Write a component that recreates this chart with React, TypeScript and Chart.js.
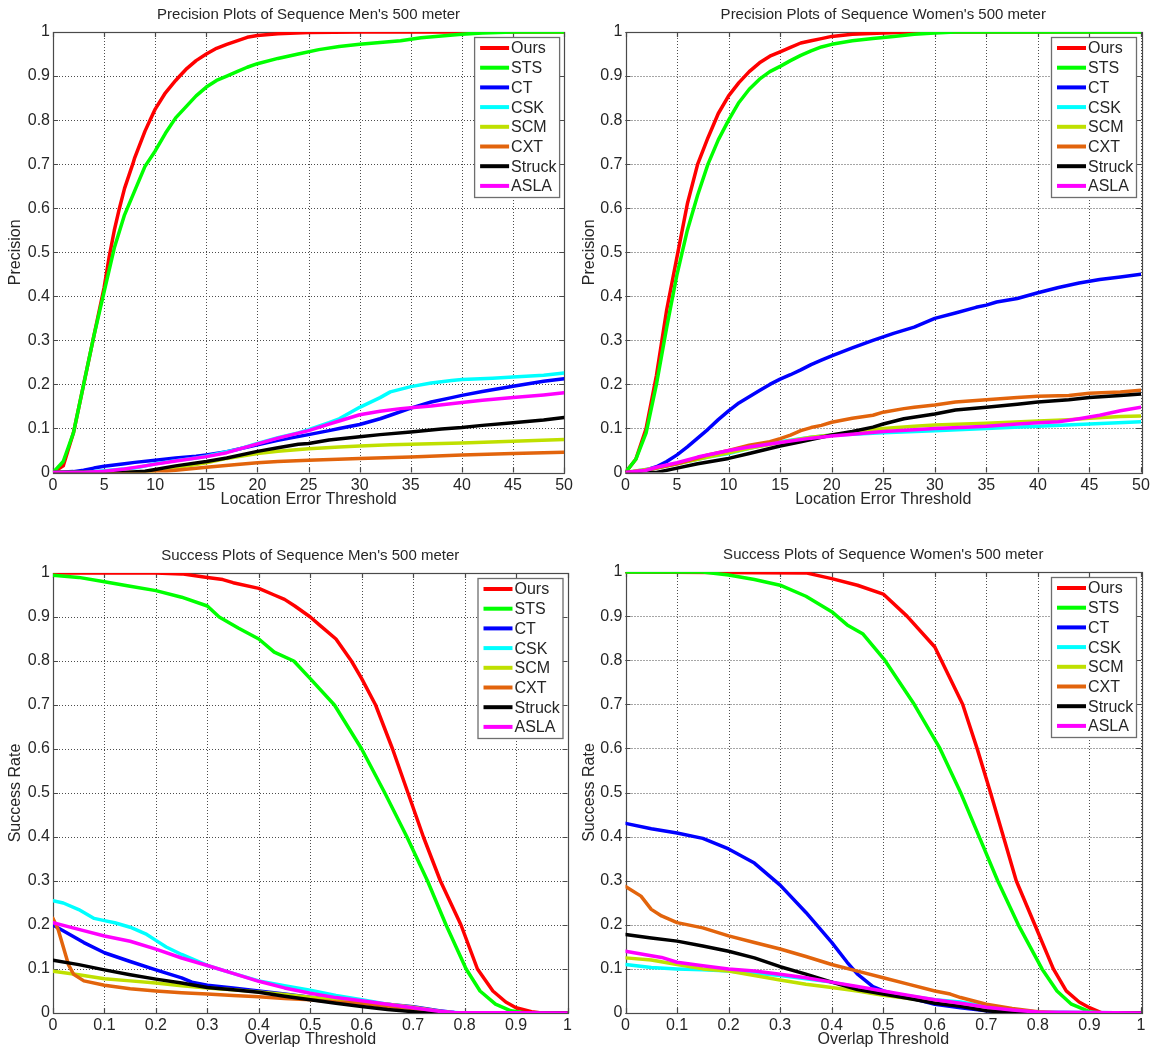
import React, { useEffect, useRef } from "react";
import { Chart, registerables } from "chart.js";

Chart.register(...registerables);

// ---------- series meta ----------
const trackerNames = ["Ours", "STS", "CT", "CSK", "SCM", "CXT", "Struck", "ASLA"];
const trackerColors = ["#ff0000", "#00ff00", "#0000ff", "#00ffff", "#bfe000", "#e2640c", "#000000", "#ff00ff"];

// ---------- tick values ----------
const precisionXTicks = [0, 5, 10, 15, 20, 25, 30, 35, 40, 45, 50];
const overlapXTicks = [0, 0.1, 0.2, 0.3, 0.4, 0.5, 0.6, 0.7, 0.8, 0.9, 1];
const rateYTicks = [0, 0.1, 0.2, 0.3, 0.4, 0.5, 0.6, 0.7, 0.8, 0.9, 1];

// ---------- Precision, Men's 500 meter ([threshold, precision]) ----------
const pmOurs = [[0,0],[1,0.015],[2,0.09],[3,0.2],[4,0.31],[5,0.42],[5.5,0.49],[6,0.55],[6.5,0.6],[7,0.645],[7.8,0.7],[8,0.715],[9,0.775],[9.5,0.8],[10,0.825],[11,0.862],[12,0.89],[12.4,0.9],[13,0.915],[14,0.935],[15,0.95],[16,0.963],[17,0.972],[18,0.98],[19,0.988],[20,0.992],[22,0.996],[25,0.999],[30,1],[50,1]];
const pmSTS = [[0,0],[1,0.025],[2,0.09],[3,0.2],[4,0.31],[5,0.41],[6,0.51],[7,0.585],[8,0.64],[9,0.695],[10,0.73],[11,0.77],[12,0.805],[13,0.83],[14,0.855],[15,0.875],[16,0.89],[17,0.9],[18,0.91],[19,0.92],[20,0.928],[22,0.94],[24,0.95],[26,0.96],[28,0.967],[30,0.972],[32,0.976],[34,0.98],[36,0.987],[38,0.991],[40,0.995],[42,0.998],[45,1],[50,1]];
const pmCT = [[0,0],[2,0.002],[3,0.005],[4,0.01],[5,0.014],[7,0.02],[8,0.023],[10,0.028],[12,0.033],[14,0.037],[15,0.04],[17,0.047],[20,0.063],[22,0.073],[25,0.086],[27,0.095],[28,0.1],[30,0.109],[32,0.122],[33,0.13],[35,0.146],[37,0.16],[39,0.17],[40,0.175],[42,0.184],[45,0.196],[48,0.207],[50,0.213]];
const pmCSK = [[0,0],[3,0],[5,0.004],[8,0.01],[10,0.02],[12,0.027],[14,0.033],[15,0.037],[17,0.047],[18,0.052],[20,0.066],[22,0.079],[24,0.09],[25,0.097],[27,0.113],[28,0.122],[30,0.148],[32,0.17],[33,0.183],[35,0.195],[37,0.203],[39,0.209],[40,0.211],[43,0.214],[45,0.217],[48,0.221],[50,0.226]];
const pmSCM = [[0,0],[9,0],[10,0.004],[12,0.011],[15,0.022],[17,0.032],[20,0.043],[22,0.048],[25,0.054],[28,0.058],[30,0.06],[33,0.063],[35,0.064],[38,0.066],[40,0.067],[45,0.071],[50,0.075]];
const pmCXT = [[0,0],[10,0],[12,0.005],[15,0.012],[18,0.018],[20,0.022],[22,0.025],[25,0.028],[30,0.032],[35,0.035],[40,0.04],[45,0.043],[50,0.046]];
const pmStruck = [[0,0],[7,0],[9,0.003],[10,0.007],[12,0.015],[15,0.025],[17,0.033],[20,0.048],[22,0.056],[24,0.064],[25,0.066],[27,0.074],[30,0.081],[32,0.086],[35,0.092],[38,0.099],[40,0.102],[42,0.107],[45,0.113],[48,0.119],[50,0.125]];
const pmASLA = [[0,0],[3,0],[5,0.003],[7,0.008],[9,0.015],[10,0.019],[12,0.026],[15,0.036],[17,0.045],[20,0.065],[22,0.078],[25,0.095],[27,0.11],[28,0.117],[30,0.131],[32,0.139],[34,0.145],[35,0.147],[37,0.151],[40,0.159],[42,0.164],[45,0.17],[48,0.176],[50,0.181]];

// ---------- Precision, Women's 500 meter ----------
const pwOurs = [[0,0],[1,0.03],[2,0.1],[3,0.22],[4,0.37],[5,0.49],[6,0.61],[7,0.7],[8,0.76],[9,0.815],[10,0.855],[11,0.885],[12,0.91],[13,0.93],[14,0.945],[15,0.955],[16,0.965],[17,0.975],[18,0.98],[19,0.985],[20,0.99],[22,0.995],[25,0.998],[28,1],[50,1]];
const pwSTS = [[0,0],[1,0.03],[2,0.09],[3,0.2],[4,0.33],[5,0.45],[6,0.55],[7,0.63],[8,0.7],[9,0.755],[10,0.8],[11,0.84],[12,0.87],[13,0.893],[14,0.91],[15,0.922],[16,0.935],[17,0.947],[18,0.957],[19,0.966],[20,0.972],[22,0.98],[24,0.985],[26,0.99],[28,0.995],[30,0.998],[32,1],[50,1]];
const pwCT = [[0,0],[1,0.002],[2,0.006],[3,0.013],[4,0.025],[5,0.04],[6,0.058],[7,0.078],[8,0.098],[9,0.12],[10,0.14],[11,0.158],[12,0.172],[13,0.186],[14,0.2],[15,0.212],[16,0.222],[17,0.233],[18,0.245],[19,0.255],[20,0.265],[22,0.283],[24,0.3],[25,0.308],[26,0.316],[28,0.33],[30,0.35],[32,0.362],[34,0.375],[35,0.38],[36,0.387],[38,0.395],[40,0.408],[42,0.42],[44,0.43],[46,0.438],[48,0.444],[50,0.45]];
const pwCSK = [[0,0],[3,0.01],[5,0.02],[8,0.035],[10,0.043],[12,0.055],[15,0.07],[18,0.08],[20,0.085],[22,0.087],[25,0.09],[30,0.095],[35,0.1],[40,0.105],[45,0.11],[50,0.115]];
const pwSCM = [[0,0],[3,0.01],[5,0.02],[8,0.035],[10,0.045],[12,0.055],[15,0.068],[18,0.08],[20,0.085],[22,0.09],[24,0.097],[25,0.1],[28,0.105],[30,0.108],[35,0.112],[40,0.117],[43,0.12],[45,0.123],[48,0.127],[50,0.128]];
const pwCXT = [[0,0],[2,0.005],[3,0.01],[5,0.02],[7,0.033],[8,0.04],[10,0.05],[12,0.062],[14,0.07],[15,0.077],[16,0.085],[17,0.095],[18,0.102],[19,0.107],[20,0.114],[22,0.123],[24,0.13],[25,0.137],[27,0.145],[28,0.148],[30,0.153],[32,0.16],[35,0.165],[38,0.17],[40,0.173],[43,0.175],[45,0.18],[48,0.183],[50,0.187]];
const pwStruck = [[0,0],[3,0],[5,0.01],[7,0.02],[10,0.032],[12,0.043],[15,0.06],[17,0.07],[20,0.085],[22,0.093],[24,0.103],[25,0.11],[27,0.122],[30,0.133],[32,0.142],[35,0.148],[38,0.155],[40,0.16],[43,0.165],[45,0.17],[48,0.175],[50,0.178]];
const pwASLA = [[0,0],[2,0.005],[3,0.012],[5,0.022],[7,0.035],[9,0.045],[10,0.05],[12,0.058],[15,0.068],[18,0.078],[20,0.083],[22,0.087],[25,0.093],[28,0.097],[30,0.1],[33,0.103],[35,0.105],[38,0.11],[40,0.113],[42,0.115],[44,0.122],[46,0.13],[48,0.14],[50,0.148]];

// ---------- Success, Men's 500 meter ([overlap, success rate]) ----------
const smOurs = [[0,1],[0.2,1],[0.25,0.998],[0.3,0.99],[0.33,0.985],[0.35,0.978],[0.4,0.965],[0.43,0.95],[0.45,0.94],[0.47,0.925],[0.5,0.9],[0.52,0.88],[0.55,0.85],[0.58,0.8],[0.6,0.76],[0.627,0.7],[0.66,0.6],[0.69,0.5],[0.72,0.4],[0.753,0.3],[0.793,0.2],[0.825,0.1],[0.855,0.05],[0.88,0.025],[0.9,0.012],[0.93,0.003],[0.95,0],[1,0]];
const smSTS = [[0,0.995],[0.05,0.99],[0.1,0.98],[0.15,0.97],[0.2,0.96],[0.25,0.945],[0.3,0.925],[0.323,0.9],[0.36,0.875],[0.4,0.85],[0.43,0.82],[0.468,0.8],[0.5,0.76],[0.547,0.7],[0.6,0.6],[0.645,0.5],[0.688,0.4],[0.728,0.3],[0.764,0.2],[0.803,0.1],[0.83,0.05],[0.86,0.02],[0.89,0.005],[0.92,0],[1,0]];
const smCT = [[0,0.2],[0.03,0.18],[0.06,0.16],[0.1,0.137],[0.15,0.117],[0.2,0.098],[0.25,0.08],[0.27,0.07],[0.3,0.063],[0.35,0.057],[0.4,0.05],[0.45,0.043],[0.5,0.036],[0.55,0.03],[0.6,0.025],[0.65,0.02],[0.7,0.014],[0.75,0.005],[0.78,0.001],[1,0]];
const smCSK = [[0,0.255],[0.02,0.25],[0.05,0.235],[0.08,0.215],[0.1,0.21],[0.12,0.205],[0.15,0.195],[0.18,0.18],[0.2,0.165],[0.22,0.15],[0.25,0.133],[0.3,0.108],[0.35,0.09],[0.4,0.073],[0.45,0.062],[0.5,0.052],[0.55,0.04],[0.6,0.03],[0.65,0.02],[0.7,0.012],[0.75,0.003],[0.8,0],[1,0]];
const smSCM = [[0,0.095],[0.05,0.087],[0.1,0.078],[0.15,0.073],[0.2,0.068],[0.25,0.062],[0.3,0.057],[0.35,0.053],[0.4,0.048],[0.45,0.042],[0.5,0.036],[0.55,0.03],[0.6,0.025],[0.65,0.02],[0.7,0.013],[0.75,0.004],[0.78,0],[1,0]];
const smCXT = [[0,0.215],[0.01,0.19],[0.02,0.15],[0.03,0.11],[0.04,0.088],[0.06,0.073],[0.1,0.063],[0.15,0.055],[0.2,0.05],[0.25,0.046],[0.3,0.043],[0.35,0.04],[0.4,0.037],[0.45,0.033],[0.5,0.03],[0.55,0.025],[0.6,0.022],[0.65,0.015],[0.7,0.01],[0.75,0.003],[0.78,0],[1,0]];
const smStruck = [[0,0.12],[0.05,0.11],[0.1,0.098],[0.15,0.087],[0.2,0.077],[0.25,0.068],[0.3,0.058],[0.35,0.053],[0.4,0.047],[0.45,0.038],[0.5,0.03],[0.55,0.022],[0.6,0.015],[0.65,0.008],[0.7,0.003],[0.73,0],[1,0]];
const smASLA = [[0,0.205],[0.05,0.19],[0.1,0.175],[0.15,0.163],[0.2,0.145],[0.25,0.125],[0.3,0.108],[0.35,0.09],[0.4,0.072],[0.45,0.057],[0.5,0.045],[0.55,0.035],[0.6,0.028],[0.65,0.02],[0.7,0.012],[0.75,0.004],[0.78,0.001],[1,0]];

// ---------- Success, Women's 500 meter ----------
const swOurs = [[0,1],[0.35,0.998],[0.4,0.985],[0.45,0.97],[0.5,0.95],[0.546,0.9],[0.6,0.83],[0.654,0.7],[0.682,0.6],[0.708,0.5],[0.733,0.4],[0.758,0.3],[0.794,0.2],[0.83,0.1],[0.855,0.05],[0.88,0.025],[0.9,0.012],[0.925,0],[1,0]];
const swSTS = [[0,1],[0.15,1],[0.2,0.993],[0.25,0.983],[0.3,0.97],[0.35,0.945],[0.4,0.91],[0.43,0.88],[0.46,0.86],[0.503,0.8],[0.56,0.7],[0.61,0.6],[0.65,0.5],[0.686,0.4],[0.722,0.3],[0.762,0.2],[0.808,0.1],[0.837,0.05],[0.865,0.02],[0.9,0.003],[0.92,0],[1,0]];
const swCT = [[0,0.43],[0.05,0.418],[0.1,0.408],[0.15,0.396],[0.2,0.372],[0.25,0.34],[0.3,0.29],[0.35,0.228],[0.4,0.16],[0.43,0.115],[0.45,0.088],[0.48,0.06],[0.5,0.05],[0.55,0.035],[0.6,0.02],[0.65,0.012],[0.7,0.005],[0.75,0.001],[1,0]];
const swCSK = [[0,0.11],[0.05,0.103],[0.1,0.1],[0.15,0.098],[0.2,0.095],[0.3,0.085],[0.4,0.07],[0.5,0.047],[0.6,0.03],[0.65,0.025],[0.7,0.015],[0.75,0.007],[0.8,0.002],[1,0]];
const swSCM = [[0,0.125],[0.05,0.12],[0.1,0.11],[0.15,0.1],[0.2,0.095],[0.25,0.085],[0.3,0.075],[0.35,0.065],[0.4,0.058],[0.45,0.05],[0.5,0.04],[0.55,0.033],[0.6,0.025],[0.65,0.02],[0.7,0.012],[0.75,0.005],[0.8,0],[1,0]];
const swCXT = [[0,0.287],[0.03,0.265],[0.05,0.235],[0.07,0.22],[0.1,0.205],[0.15,0.193],[0.2,0.175],[0.25,0.16],[0.3,0.145],[0.35,0.128],[0.4,0.11],[0.45,0.095],[0.5,0.08],[0.55,0.065],[0.6,0.05],[0.63,0.043],[0.65,0.035],[0.7,0.02],[0.75,0.01],[0.8,0.003],[0.85,0],[1,0]];
const swStruck = [[0,0.178],[0.05,0.17],[0.1,0.163],[0.15,0.152],[0.2,0.14],[0.25,0.125],[0.3,0.105],[0.35,0.088],[0.4,0.07],[0.45,0.053],[0.5,0.043],[0.55,0.033],[0.6,0.022],[0.65,0.015],[0.7,0.005],[0.75,0.001],[1,0]];
const swASLA = [[0,0.14],[0.05,0.13],[0.07,0.126],[0.1,0.115],[0.15,0.107],[0.2,0.1],[0.25,0.095],[0.3,0.088],[0.35,0.08],[0.4,0.07],[0.45,0.06],[0.5,0.05],[0.55,0.04],[0.6,0.03],[0.65,0.022],[0.7,0.013],[0.75,0.007],[0.8,0.002],[1,0]];

// ---------- panel layout ----------
const FONT = '"Liberation Sans", Arial, Helvetica, sans-serif';
const TEXT = "#262626";

const panels = [
  {
    title: "Precision Plots of Sequence Men's 500 meter", xTitle: "Location Error Threshold", yTitle: "Precision",
    xMax: 50, xTicks: precisionXTicks, series: [pmOurs, pmSTS, pmCT, pmCSK, pmSCM, pmCXT, pmStruck, pmASLA],
    left: 0, top: 0, width: 576, height: 526, area: { left: 53, right: 567.5, top: 32, bottom: 472.5 }, titleY: 15, xTitleY: 500, yTitleX: 16,
  },
  {
    title: "Precision Plots of Sequence Women's 500 meter", xTitle: "Location Error Threshold", yTitle: "Precision",
    xMax: 50, xTicks: precisionXTicks, series: [pwOurs, pwSTS, pwCT, pwCSK, pwSCM, pwCXT, pwStruck, pwASLA],
    left: 576, top: 0, width: 577, height: 526, area: { left: 49.5, right: 565, top: 32, bottom: 472.5 }, titleY: 15, xTitleY: 500, yTitleX: 14,
  },
  {
    title: "Success Plots of Sequence Men's 500 meter", xTitle: "Overlap Threshold", yTitle: "Success Rate",
    xMax: 1, xTicks: overlapXTicks, series: [smOurs, smSTS, smCT, smCSK, smSCM, smCXT, smStruck, smASLA],
    left: 0, top: 526, width: 576, height: 526, area: { left: 53, right: 567.5, top: 47, bottom: 487 }, titleY: 30, xTitleY: 514, yTitleX: 16,
  },
  {
    title: "Success Plots of Sequence Women's 500 meter", xTitle: "Overlap Threshold", yTitle: "Success Rate",
    xMax: 1, xTicks: overlapXTicks, series: [swOurs, swSTS, swCT, swCSK, swSCM, swCXT, swStruck, swASLA],
    left: 576, top: 526, width: 577, height: 526, area: { left: 49.5, right: 565, top: 46, bottom: 487 }, titleY: 29, xTitleY: 514, yTitleX: 14,
  },
];

const fmt = (v: number) => String(Number(Number(v).toFixed(2)));

const decorPlugin = {
  id: "matlabDecor",
  beforeDatasetsDraw(chart: any, _args: any, opts: any) {
    const { ctx, chartArea: a } = chart;
    const xs = chart.scales.x;
    const ys = chart.scales.y;
    ctx.save();
    // dotted grid
    ctx.strokeStyle = "#4d4d4d";
    ctx.lineWidth = 1;
    ctx.setLineDash([1, 2]);
    for (const v of opts.xTicks) {
      const px = Math.round(xs.getPixelForValue(v)) + 0.5;
      ctx.beginPath();
      ctx.moveTo(px, a.top);
      ctx.lineTo(px, a.bottom);
      ctx.stroke();
    }
    for (const v of opts.yTicks) {
      const py = Math.round(ys.getPixelForValue(v)) + 0.5;
      ctx.beginPath();
      ctx.moveTo(a.left, py);
      ctx.lineTo(a.right, py);
      ctx.stroke();
    }
    ctx.setLineDash([]);
    // axes box
    ctx.strokeStyle = "#4a4a4a";
    ctx.lineWidth = 1.2;
    ctx.strokeRect(Math.round(a.left) + 0.5, Math.round(a.top) + 0.5, Math.round(a.right - a.left), Math.round(a.bottom - a.top));
    // inward tick marks
    const tl = 5;
    ctx.beginPath();
    for (const v of opts.xTicks) {
      const px = Math.round(xs.getPixelForValue(v)) + 0.5;
      ctx.moveTo(px, a.bottom); ctx.lineTo(px, a.bottom - tl);
      ctx.moveTo(px, a.top); ctx.lineTo(px, a.top + tl);
    }
    for (const v of opts.yTicks) {
      const py = Math.round(ys.getPixelForValue(v)) + 0.5;
      ctx.moveTo(a.left, py); ctx.lineTo(a.left + tl, py);
      ctx.moveTo(a.right, py); ctx.lineTo(a.right - tl, py);
    }
    ctx.stroke();
    ctx.restore();
  },
  afterDatasetsDraw(chart: any) {
    const { ctx, chartArea: a } = chart;
    const ds = chart.data.datasets;
    // legend box
    const boxW = 85;
    const rowH = 19.7;
    const boxH = 160;
    const bx = a.right - 5 - boxW;
    const by = a.top + 5;
    ctx.save();
    ctx.fillStyle = "#ffffff";
    ctx.fillRect(bx, by, boxW, boxH);
    ctx.strokeStyle = "#6e6e6e";
    ctx.lineWidth = 1.3;
    ctx.strokeRect(bx + 0.5, by + 0.5, boxW, boxH);
    ctx.font = `16px ${FONT}`;
    ctx.textBaseline = "middle";
    ctx.textAlign = "left";
    ds.forEach((d: any, i: number) => {
      const cy = by + 11 + i * rowH;
      ctx.strokeStyle = d.borderColor;
      ctx.lineWidth = 4;
      ctx.beginPath();
      ctx.moveTo(bx + 6, cy);
      ctx.lineTo(bx + 35, cy);
      ctx.stroke();
      ctx.fillStyle = TEXT;
      ctx.fillText(d.label, bx + 37, cy + 1);
    });
    ctx.restore();
  },
  afterDraw(chart: any, _args: any, opts: any) {
    const { ctx, chartArea: a } = chart;
    const cx = (a.left + a.right) / 2;
    ctx.save();
    ctx.fillStyle = TEXT;
    ctx.textAlign = "center";
    ctx.textBaseline = "middle";
    ctx.font = `15px ${FONT}`;
    ctx.fillText(opts.title, cx, opts.titleY);
    ctx.font = `16px ${FONT}`;
    ctx.fillText(opts.xTitle, cx, opts.xTitleY);
    ctx.translate(opts.yTitleX, (a.top + a.bottom) / 2);
    ctx.rotate(-Math.PI / 2);
    ctx.fillText(opts.yTitle, 0, 0);
    ctx.restore();
  },
};

function Panel({ cfg }: { cfg: any }) {
  const ref = useRef<HTMLCanvasElement | null>(null);
  useEffect(() => {
    if (!ref.current) return;
    const ar = cfg.area;
    const chart = new Chart(ref.current, {
      type: "line",
      data: {
        datasets: cfg.series.map((pts: number[][], i: number) => ({
          label: trackerNames[i],
          data: pts.map(([x, y]) => ({ x, y })),
          borderColor: trackerColors[i],
          backgroundColor: trackerColors[i],
          borderWidth: 3.5,
          pointRadius: 0,
          tension: 0,
          fill: false,
          order: -i,
          borderJoinStyle: "round",
          borderCapStyle: "round",
        })),
      },
      options: {
        responsive: false,
        animation: false,
        devicePixelRatio: 1,
        events: [],
        layout: { padding: { top: ar.top, right: cfg.width - ar.right, left: 0, bottom: 0 } },
        plugins: {
          legend: { display: false },
          tooltip: { enabled: false },
          title: { display: false },
          matlabDecor: {
            xTicks: cfg.xTicks, yTicks: rateYTicks, title: cfg.title, xTitle: cfg.xTitle, yTitle: cfg.yTitle,
            titleY: cfg.titleY, xTitleY: cfg.xTitleY, yTitleX: cfg.yTitleX,
          },
        } as any,
        scales: {
          x: {
            type: "linear",
            min: 0,
            max: cfg.xMax,
            afterFit: (s: any) => { s.height = cfg.height - ar.bottom; },
            afterBuildTicks: (s: any) => { s.ticks = cfg.xTicks.map((v: number) => ({ value: v })); },
            grid: { display: false, drawTicks: false },
            border: { display: false },
            ticks: { autoSkip: false, maxRotation: 0, minRotation: 0, padding: 3, color: TEXT, font: { family: FONT, size: 16 }, callback: (v: any) => fmt(v) },
          },
          y: {
            type: "linear",
            min: 0,
            max: 1,
            afterFit: (s: any) => { s.width = ar.left; },
            afterBuildTicks: (s: any) => { s.ticks = rateYTicks.map((v: number) => ({ value: v })); },
            grid: { display: false, drawTicks: false },
            border: { display: false },
            ticks: { autoSkip: false, padding: 3, color: TEXT, font: { family: FONT, size: 16 }, callback: (v: any) => fmt(v) },
          },
        },
      } as any,
      plugins: [decorPlugin as any],
    });
    return () => chart.destroy();
  }, [cfg]);
  return (
    <canvas
      ref={ref}
      width={cfg.width}
      height={cfg.height}
      style={{ position: "absolute", left: cfg.left, top: cfg.top, width: cfg.width, height: cfg.height, display: "block" }}
    />
  );
}

export default function App() {
  return (
    <div style={{ position: "fixed", left: 0, top: 0, width: 1153, height: 1052, background: "#ffffff", overflow: "hidden" }}>
      {panels.map((p, i) => (
        <Panel key={i} cfg={p} />
      ))}
    </div>
  );
}
